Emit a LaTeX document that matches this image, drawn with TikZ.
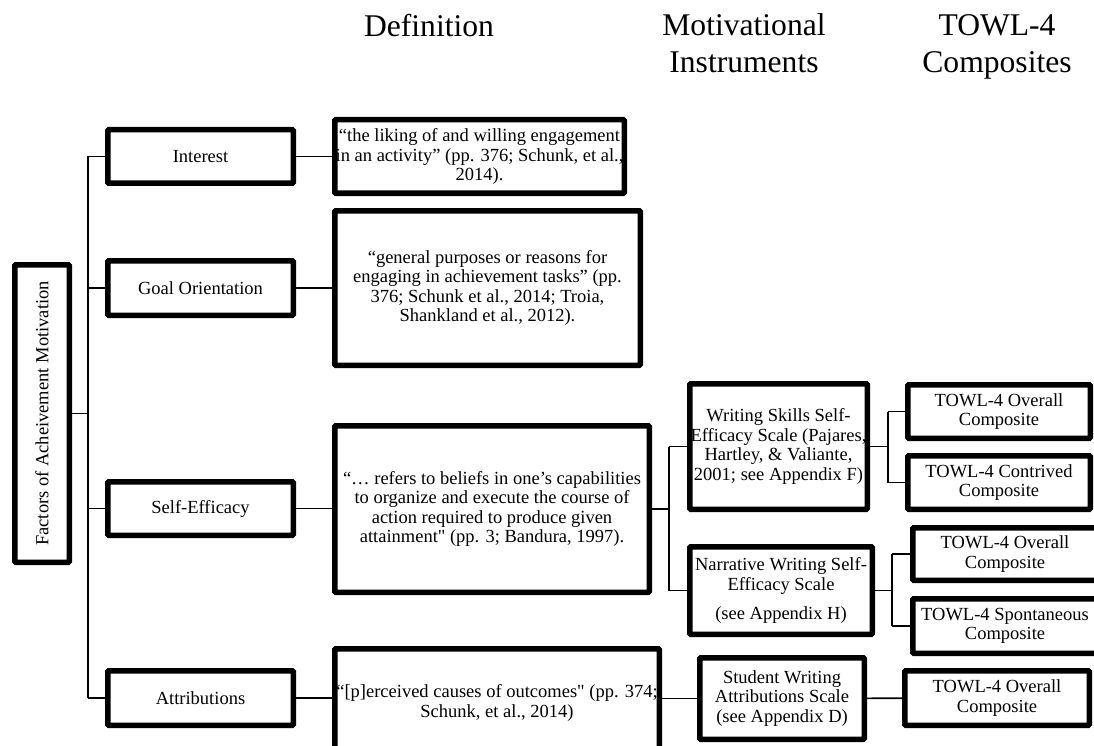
\documentclass[tikz,border=0pt]{standalone}
\usepackage{fontspec}
\setmainfont{Liberation Serif}[Ligatures=TeXOff]
\newcommand\bodyfnt{\fontsize{18.5}{19.5}\selectfont}
\newcommand\hdrfnt{\fontsize{31.6}{37}\selectfont}
\begin{document}
\begin{tikzpicture}[x=1pt,y=-1pt,
  box/.style={draw, line width=5.5pt, rounded corners=1pt, inner sep=0pt, align=center, font=\bodyfnt},
  conn/.style={line width=1.6pt},
  hdr/.style={font=\hdrfnt, inner sep=0pt, anchor=base}]
\useasboundingbox (0,0) rectangle (1094,746);
\clip (0,0) rectangle (1094,746);
% headers
\node[hdr] (h1) at (429,37) {Definition};
\node[hdr] (h2a) at (744,36) {Motivational};
\node[hdr] (h2b) at (744,73) {Instruments};
\node[hdr] (h3a) at (997,36) {TOWL-4};
\node[hdr] (h3b) at (997,73) {Composites};
% root
\node[box, rotate=90, minimum width=297.5pt, minimum height=54.5pt] (F) at (42,413.5) {Factors of Acheivement Motivation};
% level 1
\node[box, minimum width=185.5pt, minimum height=53.5pt] (I) at (200.5,156.5) {Interest};
\node[box, minimum width=185.5pt, minimum height=54.5pt] (G) at (200.5,288) {Goal Orientation};
\node[box, minimum width=185.5pt, minimum height=53.5pt] (S) at (200.5,508.5) {Self-Efficacy};
\node[box, minimum width=185.5pt, minimum height=54.5pt] (A) at (200.5,698) {Attributions};
% definitions
\node[box, minimum width=289.5pt, minimum height=73.5pt] (DI) at (479.5,156.5) {“the liking of and willing engagement\\in an activity” (pp. 376; Schunk, et al.,\\2014).};
\node[box, minimum width=305.5pt, minimum height=154.5pt] (DG) at (487.5,288) {“general purposes or reasons for\\engaging in achievement tasks” (pp.\\376; Schunk et al., 2014; Troia,\\Shankland et al., 2012).};
\node[box, minimum width=314.5pt, minimum height=166.5pt] (DS) at (492,509) {“… refers to beliefs in one’s capabilities\\to organize and execute the course of\\action required to produce given\\attainment" (pp. 3; Bandura, 1997).};
\node[box, minimum width=324.5pt, minimum height=108.5pt] (DA) at (497,703) {“[p]erceived causes of outcomes" (pp. 374;\\Schunk, et al., 2014)};
% instruments
\node[box, minimum width=177.5pt, minimum height=125.5pt] (IW) at (778.5,446.5) {Writing Skills Self-\\Efficacy Scale (Pajares,\\Hartley, \& Valiante,\\2001; see Appendix F)};
\node[box, minimum width=182.5pt, minimum height=87.5pt] (IN) at (781,590.5) {Narrative Writing Self-\\Efficacy Scale\\[10pt](see Appendix H)};
\node[box, minimum width=164.5pt, minimum height=81.5pt] (ISt) at (782,698.5) {Student Writing\\Attributions Scale\\(see Appendix D)};
% TOWL composites
\node[box, minimum width=182.5pt, minimum height=53.5pt] (T1) at (999,411.5) {TOWL-4 Overall\\Composite};
\node[box, minimum width=182.5pt, minimum height=53.5pt] (T2) at (999,482.5) {TOWL-4 Contrived\\Composite};
\node[box, minimum width=184.5pt, minimum height=52.5pt] (T3) at (1005,554) {TOWL-4 Overall\\Composite};
\node[box, minimum width=184.5pt, minimum height=54.5pt] (T4) at (1005,626) {TOWL-4 Spontaneous\\Composite};
\node[box, minimum width=184.5pt, minimum height=54.5pt] (T5) at (997,698) {TOWL-4 Overall\\Composite};
% trunk
\coordinate (tI) at (88,156.5);
\coordinate (tG) at (88,288);
\coordinate (tF) at (88,413.5);
\coordinate (tS) at (88,508.5);
\coordinate (tA) at (88,698);
\draw[conn] (tI) -- (tA);
\draw[conn] (F) -- (tF);
\draw[conn] (tI) -- (I);
\draw[conn] (tG) -- (G);
\draw[conn] (tS) -- (S);
\draw[conn] (tA) -- (A);
% level1 to definitions
\draw[conn] (I) -- (DI);
\draw[conn] (G) -- (DG);
\draw[conn] (S) -- (S -| DS.west);
\draw[conn] (A) -- (A -| DA.west);
% self-efficacy branch
\coordinate (bS) at (669,509);
\coordinate (b1) at (669,446.5);
\coordinate (b2) at (669,590.5);
\draw[conn] (DS) -- (bS);
\draw[conn] (b1) -- (b2);
\draw[conn] (b1) -- (IW);
\draw[conn] (b2) -- (IN);
% writing skills branch
\coordinate (cW) at (888,446.5);
\coordinate (c1) at (888,411.5);
\coordinate (c2) at (888,482.5);
\draw[conn] (IW) -- (cW);
\draw[conn] (c1) -- (c2);
\draw[conn] (c1) -- (T1);
\draw[conn] (c2) -- (T2);
% narrative branch
\coordinate (dN) at (892,590.5);
\coordinate (d1) at (892,554);
\coordinate (d2) at (892,626);
\draw[conn] (IN) -- (dN);
\draw[conn] (d1) -- (d2);
\draw[conn] (d1) -- (T3);
\draw[conn] (d2) -- (T4);
% attributions branch
\draw[conn] (ISt -| DA.east) -- (ISt);
\draw[conn] (ISt) -- (T5);
\end{tikzpicture}
\end{document}
